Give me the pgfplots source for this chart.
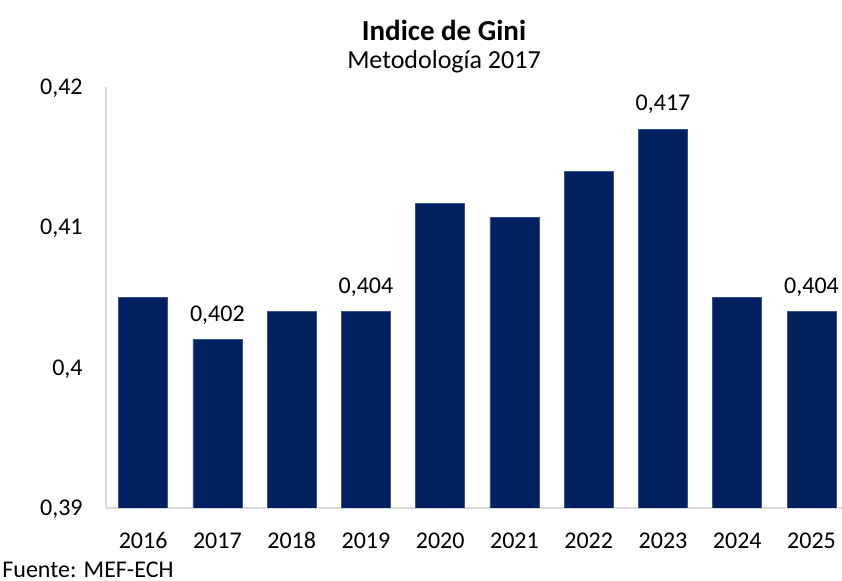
\documentclass[border=0pt]{standalone}
\usepackage{fontspec}
\setmainfont{Carlito}
\usepackage{pgfplots}
\pgfplotsset{compat=1.18}
\definecolor{barblue}{HTML}{002060}
\definecolor{baredge}{HTML}{3A5490}
\definecolor{axgray}{HTML}{D9D9D9}
\begin{document}
\begin{tikzpicture}
\useasboundingbox (0,0) rectangle (421pt,290.5pt);
\begin{axis}[
  at={(53pt,36.5pt)}, anchor=south west,
  scale only axis, width=368pt, height=210.5pt,
  xmin=-0.5, xmax=9.41, ymin=0.39, ymax=0.42,
  axis x line*=bottom, axis y line*=left,
  axis line style={draw=axgray, line width=0.6pt},
  xtick={0,...,9},
  xticklabels={2016,2017,2018,2019,2020,2021,2022,2023,2024,2025},
  ytick={0.39,0.40,0.41,0.42},
  yticklabels={{0,39},{0,4},{0,41},{0,42}},
  major tick length=0pt,
  tick style={draw=none},
  xticklabel style={anchor=base, inner sep=0pt, yshift=-20.3pt, font=\fontsize{12}{14}\selectfont},
  yticklabel style={anchor=base east, inner sep=0pt, xshift=-11.5pt, yshift=-3.8pt, font=\fontsize{12}{14}\selectfont},
  ybar, bar width=24.5pt,
  nodes near coords={\pgfplotspointmeta},
  point meta=explicit symbolic,
  nodes near coords style={anchor=base, inner sep=0pt, yshift=9.2pt, font=\fontsize{12}{14}\selectfont, text=black},
]
\addplot[fill=barblue, draw=baredge, line width=0.3pt] coordinates {
  (0,0.405) []
  (1,0.402) [0,402]
  (2,0.404) []
  (3,0.404) [0,404]
  (4,0.4117) []
  (5,0.4107) []
  (6,0.414) []
  (7,0.417) [0,417]
  (8,0.405) []
  (9,0.404) [0,404]
};
\end{axis}
\node[font=\bfseries\fontsize{14.5}{16}\selectfont, inner sep=0pt] at (222pt,275.5pt) {Indice de Gini};
\node[font=\fontsize{13}{15}\selectfont, inner sep=0pt] at (222pt,259.5pt) {Metodología 2017};
\node[font=\fontsize{12}{14}\selectfont, inner sep=0pt, anchor=base west] at (1pt,1.8pt) {Fuente: MEF-ECH};
\end{tikzpicture}
\end{document}
